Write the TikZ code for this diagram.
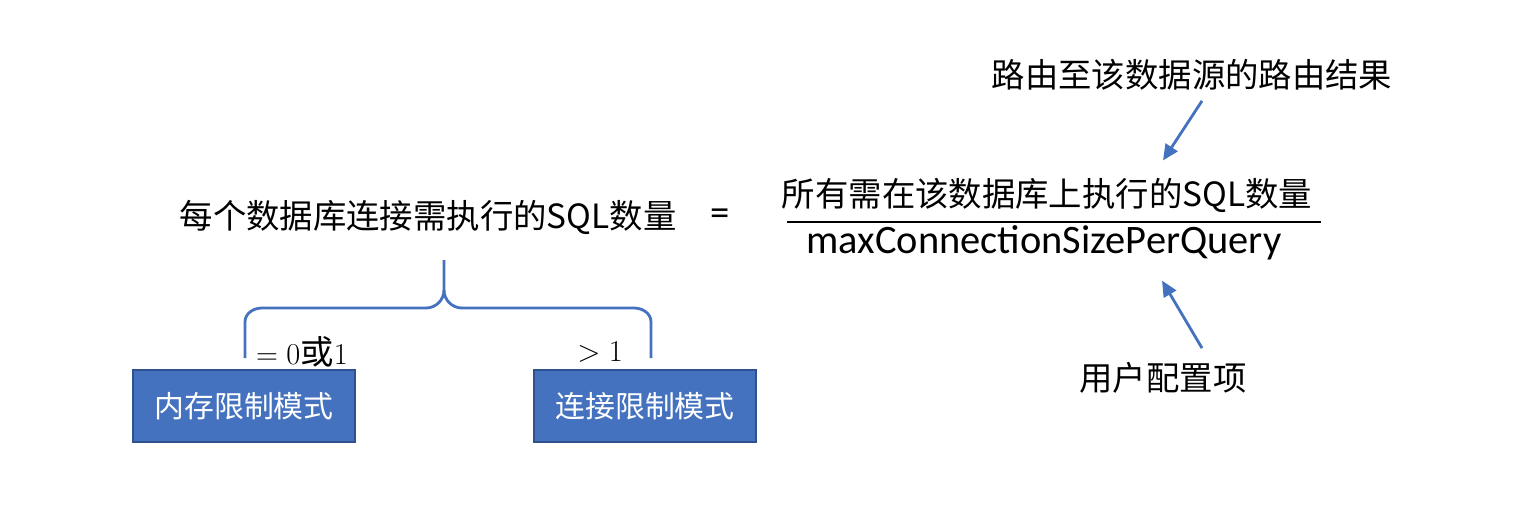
\documentclass[tikz,border=0pt]{standalone}
\usepackage{fontspec}
\setmainfont{Carlito}
\newfontfamily\cjk{Noto Sans CJK SC}
\usetikzlibrary{arrows.meta}
\definecolor{boxblue}{RGB}{68,114,190}
\definecolor{boxline}{RGB}{47,82,143}
\definecolor{linkblue}{RGB}{68,114,190}

\begin{document}
\begin{tikzpicture}[x=0.02cm,y=-0.02cm,
    txt/.style={inner sep=0pt,font=\cjk\fontsize{19}{21}\selectfont},
    mode/.style={draw=boxline,line width=1.4pt,fill=boxblue,text=white,inner sep=0pt,
      minimum width=4.44cm,minimum height=1.44cm,font=\cjk\fontsize{17}{19}\selectfont},
    cond/.style={inner sep=0pt,font=\fontsize{19}{21}\selectfont},
    pointer/.style={-{Triangle[length=9pt,width=8pt]},line width=1.6pt,draw=linkblue},
    bracket/.style={line width=1.6pt,draw=linkblue}]
    \useasboundingbox (0,0) rectangle (1537,528);
    % left side of the equation
    \node[txt] (lhs) at (428,217) {每个数据库连接需执行的SQL数量};
    \node[inner sep=0pt,font=\fontsize{22}{24}\selectfont] (eq) at (720,217) {=};
    % fraction
    \node[txt] (num) at (1047,195) {所有需在该数据库上执行的SQL数量};
    \node[inner sep=0pt,font=\fontsize{23}{25}\selectfont] (den) at (1044,243) {maxConnectionSizePerQuery};
    \draw[line width=1.5pt] (787,222) -- (1321,222);
    \node[txt] (src) at (1192,75) {路由至该数据源的路由结果};
    \node[txt] (cfg) at (1163,378) {用户配置项};
    \draw[pointer] ([shift={(10,10)}]src.south) -- ([shift={(116,-17)}]num.north);
    \draw[pointer] ([shift={(39,-14)}]cfg.north) -- ([shift={(118,20)}]den.south);
    % the two modes
    \node[mode] (mem) at (244,406) {内存限制模式};
    \node[mode] (conn) at (645,406) {连接限制模式};
    \draw[bracket] (245,358) -- (245,322) to[out=90,in=180] (262,308) -- (426,308)
      to[out=0,in=-90] (444,290) -- (444,260);
    \draw[bracket] (444,290) to[out=-90,in=180] (462,308) -- (634,308)
      to[out=0,in=90] (651,322) -- (651,358);
    \node[cond] (one) at (302,352) {$=0$\cjk 或\rmfamily$1$};
    \node[cond] (many) at (600,352) {$>1$};
\end{tikzpicture}
\end{document}
